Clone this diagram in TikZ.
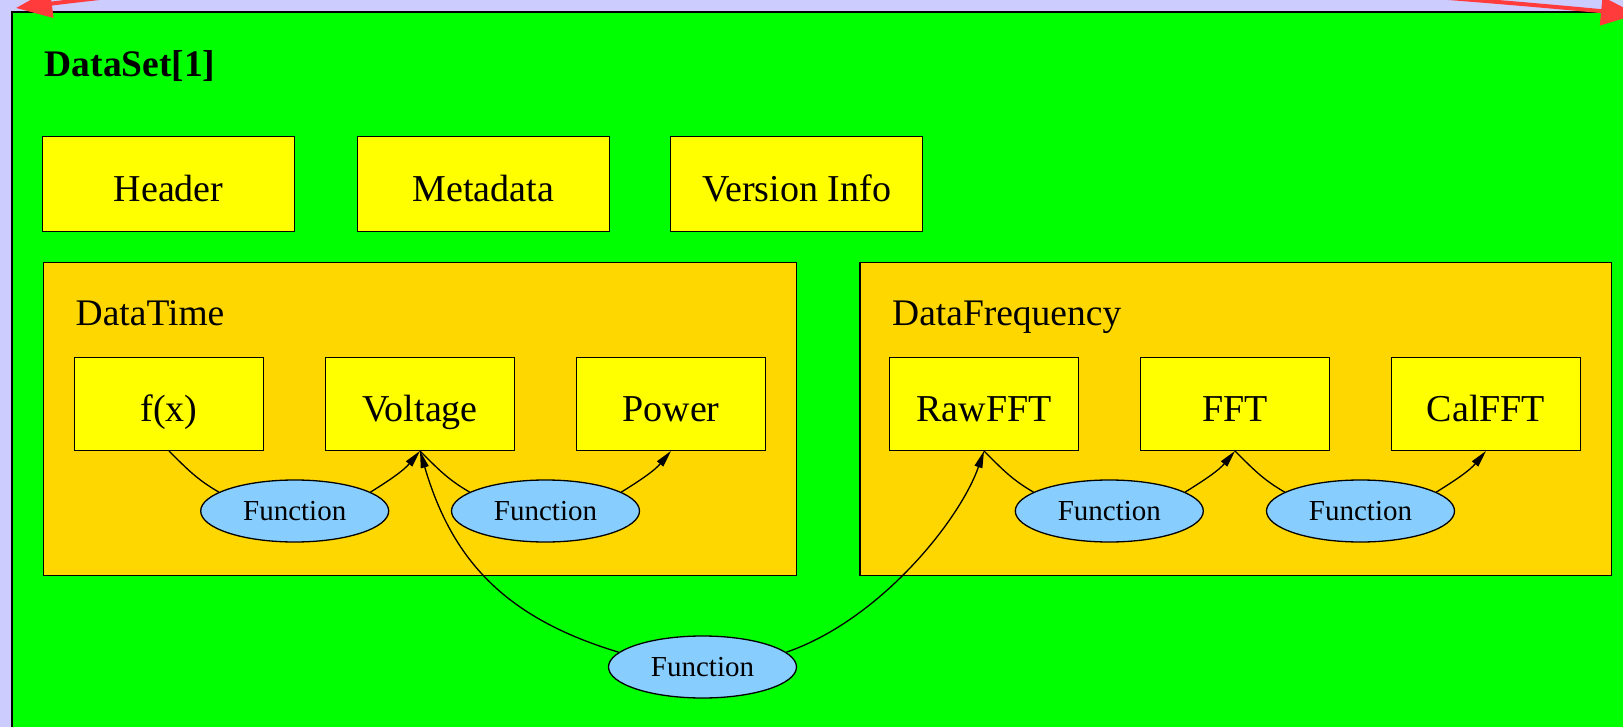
\documentclass[tikz,border=0pt]{standalone}
\usepackage{fontspec}
\setmainfont{Liberation Serif}
\usetikzlibrary{shapes.geometric,arrows.meta}

\definecolor{paper}{HTML}{CCCCFF}
\definecolor{setgreen}{HTML}{00FF00}
\definecolor{groupgold}{HTML}{FFD700}
\definecolor{itemyellow}{HTML}{FFFF00}
\definecolor{funcblue}{HTML}{87CEFF}
\definecolor{linkred}{HTML}{FF3B3B}

\begin{document}
\begin{tikzpicture}[x=1pt,y=-1pt,
  item/.style={draw=black, line width=1.3pt, fill=itemyellow, inner sep=0pt,
    minimum width=188.5pt, minimum height=93pt,
    text height=35pt, text depth=0pt,
    font=\fontsize{38}{45}\selectfont},
  topitem/.style={item, minimum width=252pt, minimum height=95pt},
  func/.style={ellipse, draw=black, line width=1.3pt, fill=funcblue, inner sep=0pt,
    minimum width=188pt, minimum height=62pt,
    font=\fontsize{29}{34}\selectfont},
  group/.style={draw=black, line width=1.2pt, fill=groupgold},
  grouplabel/.style={anchor=base west, inner sep=0pt,
    font=\fontsize{37.5}{44}\selectfont},
  link/.style={draw=black, line width=1.3pt},
  feed/.style={link, -{Triangle[length=17pt,width=8pt]}}
]
\useasboundingbox (0,0) rectangle (1623,727);
\clip (0,0) rectangle (1623,727);

% page background and the outer data set
\fill[paper] (0,0) rectangle (1623,727);
\draw[fill=setgreen, line width=1.4pt] (12,12) rectangle (1680,780);
\node[anchor=base west, inner sep=0pt, font=\bfseries\fontsize{37.5}{44}\selectfont]
  (title) at (44.5,76.5) {DataSet[1]};

% link leaving the data set across the top
\coordinate (linkL) at (16,8);
\coordinate (linkR) at (1637,14.5);
\draw[linkred, line width=4pt,
  {Triangle[length=36pt,width=28pt]}-{Triangle[length=36pt,width=28pt]}]
  (linkL) .. controls (500,-52) and (1100,-36) .. (linkR);

% top row of plain items
\node[topitem] (header)  at (168.6,184.2) {Header};
\node[topitem] (meta)    at (483.3,184.2) {Metadata};
\node[topitem] (version) at (796.6,184.2) {Version Info};

% the two groups
\draw[group] (43.8,262.7) rectangle (796.3,575.7);
\node[grouplabel] (timelabel) at (75.5,326) {DataTime};
\draw[group] (859.9,262.7) rectangle (1611.8,575.7);
\node[grouplabel] (freqlabel) at (892,326) {DataFrequency};

% items in the groups
\node[item] (fx)      at (169,403.8)  {f(x)};
\node[item] (voltage) at (420,403.8)  {Voltage};
\node[item] (power)   at (671,403.8)  {Power};
\node[item] (rawfft)  at (984,403.8)  {RawFFT};
\node[item] (fft)     at (1235,403.8) {FFT};
\node[item] (calfft)  at (1486,403.8) {CalFFT};

% functions
\node[func] (f1) at (294.7,511)  {Function};
\node[func] (f2) at (545.5,511)  {Function};
\node[func] (f3) at (1109.3,511) {Function};
\node[func] (f4) at (1360.5,511) {Function};
\node[func] (f5) at (702.5,667) {Function};

% connectors inside the groups
\draw[link] (fx.south) to[out=-45,in=150] (f1.166);
\draw[feed] (f1.14) to[out=32,in=-130] (voltage.south);
\draw[link] (voltage.south) to[out=-45,in=150] (f2.166);
\draw[feed] (f2.14) to[out=32,in=-130] (power.south);
\draw[link] (rawfft.south) to[out=-45,in=150] (f3.166);
\draw[feed] (f3.14) to[out=32,in=-130] (fft.south);
\draw[link] (fft.south) to[out=-45,in=150] (f4.166);
\draw[feed] (f4.14) to[out=32,in=-130] (calfft.south);

% the function linking time and frequency data
\draw[feed] (f5.170) .. controls (505,618) and (452,560) .. (voltage.south);
\draw[feed] (f5.10) .. controls (880,620) and (960,520) .. (rawfft.south);
\end{tikzpicture}
\end{document}
